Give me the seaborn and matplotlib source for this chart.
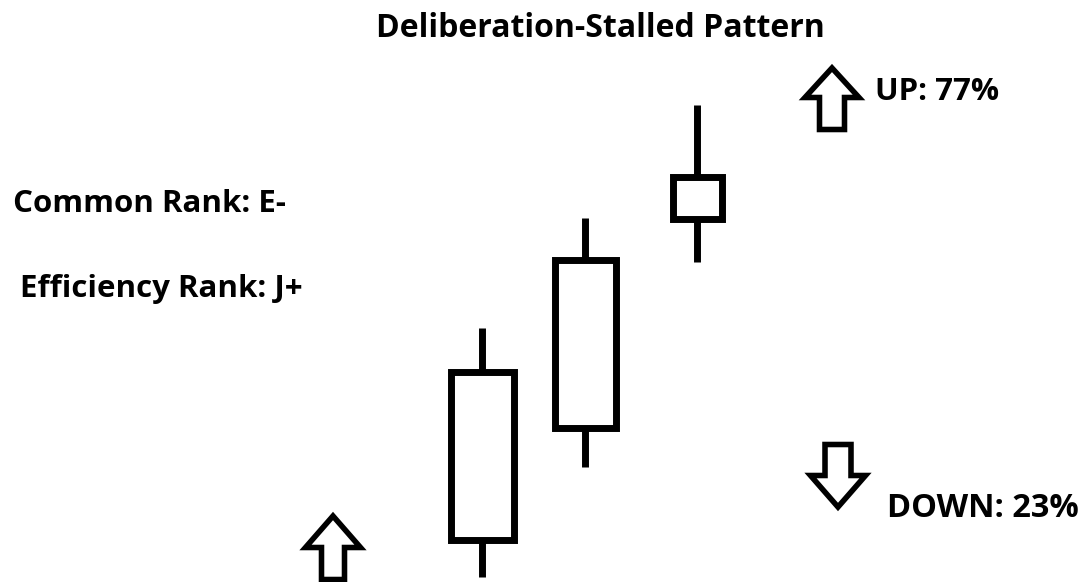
import matplotlib
matplotlib.use("Agg")
import matplotlib.pyplot as plt
from matplotlib.patches import Polygon
import seaborn as sns

# Three-session candle data (price units)
sessions = ["Day 1", "Day 2", "Day 3"]
opens = [4.2, 15.4, 36.3]
closes = [21.0, 32.2, 40.5]
highs = [25.4, 36.4, 47.7]
lows = [0.5, 11.5, 32.0]

title = "Deliberation-Stalled Pattern"
common_rank = "Common Rank: E-"
efficiency_rank = "Efficiency Rank: J+"
up_label = "UP: 77%"
down_label = "DOWN: 23%"

# Layout: candle centres and body widths along the x axis
x_pos = [48.2, 58.5, 69.7]
body_w = [6.3, 6.1, 4.9]

sns.set_theme(style="white")
plt.rcParams["font.family"] = ["Open Sans", "DejaVu Sans"]

fig = plt.figure(figsize=(10.81, 5.82), dpi=100)
ax = fig.add_axes([0, 0, 1, 1])
ax.set_xlim(0, 108.1)
ax.set_ylim(0, 58.2)
ax.set_axis_off()

lw = 5.0

# wicks
ax.vlines(x_pos, lows, highs, color="black", linewidth=lw, zorder=1)
# hollow bodies
heights = [c - o for o, c in zip(opens, closes)]
ax.bar(x_pos, heights, bottom=opens, width=body_w, facecolor="white",
       edgecolor="black", linewidth=lw, zorder=2)


def block_arrow(cx, tip, base, end, head_half, shaft_half):
    return [(cx, tip), (cx + head_half, base), (cx + shaft_half, base),
            (cx + shaft_half, end), (cx - shaft_half, end),
            (cx - shaft_half, base), (cx - head_half, base)]


arrow_style = dict(closed=True, facecolor="white", edgecolor="black",
                   linewidth=4.0, joinstyle="miter", zorder=3)
# up arrow next to the UP probability
ax.add_patch(Polygon(block_arrow(83.2, 51.4, 48.45, 45.25, 2.7, 1.25), **arrow_style))
# down arrow next to the DOWN probability
ax.add_patch(Polygon(block_arrow(83.8, 7.5, 10.65, 13.75, 2.75, 1.3), **arrow_style))
# entry arrow under the first session
ax.add_patch(Polygon(block_arrow(33.3, 6.6, 3.45, 0.25, 2.75, 1.15), **arrow_style))

txt = dict(fontweight="bold", color="black", va="baseline")
ax.text(60.05, 54.5, title, ha="center", fontsize=23, **txt)
ax.text(1.3, 37.0, common_rank, ha="left", fontsize=22.5, **txt)
ax.text(2.0, 28.5, efficiency_rank, ha="left", fontsize=22.5, **txt)
ax.text(87.5, 48.2, up_label, ha="left", fontsize=22.5, **txt)
ax.text(88.7, 6.5, down_label, ha="left", fontsize=23.5, **txt)

fig.savefig("out.png", dpi=100, facecolor="white")
